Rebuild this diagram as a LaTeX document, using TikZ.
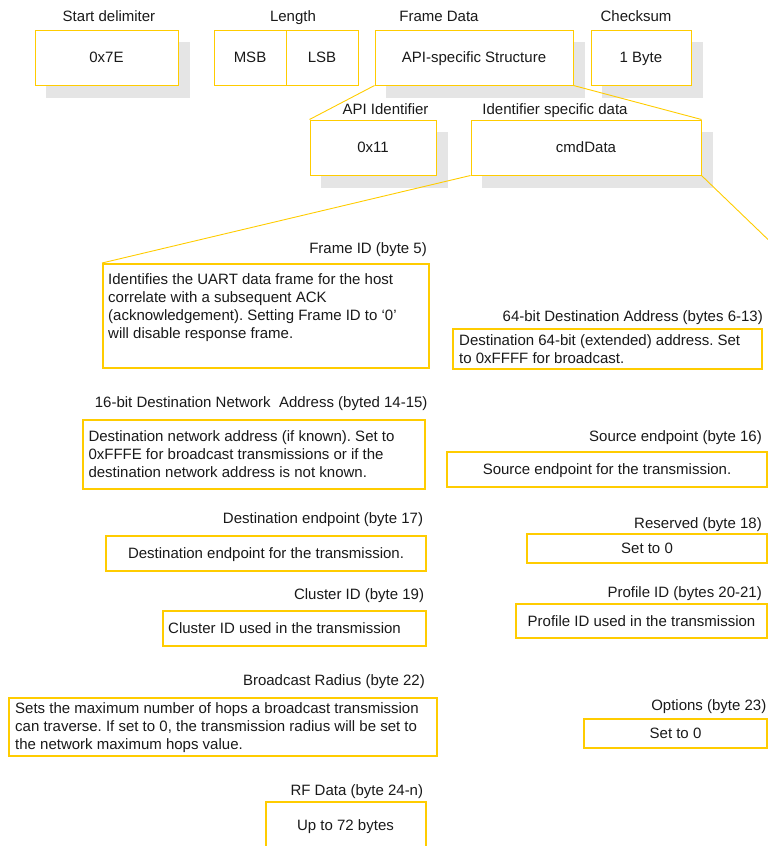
\documentclass[tikz,border=0pt]{standalone}
\usepackage{fontspec}
\setmainfont{Liberation Sans}
\usetikzlibrary{backgrounds}
\definecolor{xyellow}{RGB}{255,204,0}
\definecolor{xshadow}{RGB}{229,229,229}
\definecolor{xtext}{RGB}{25,25,25}
\frenchspacing
\begin{document}
\begin{tikzpicture}[x=1pt,y=-1pt,
  font=\fontsize{15}{18.3}\selectfont\frenchspacing, text=xtext,
  topbox/.style={draw=xyellow, line width=1pt, fill=white, inner sep=0pt,
    text height=10.7pt, text depth=0pt, minimum height=55pt},
  detbox/.style={draw=xyellow, line width=2pt, inner sep=0pt,
    text height=10.7pt, text depth=0pt},
  lbl/.style={inner sep=0pt},
  para/.style={inner sep=0pt, anchor=north west, align=left},
  conn/.style={draw=xyellow, line width=0.9pt}]
\useasboundingbox (0,0) rectangle (768,846);
\clip (0,0) rectangle (768,846);

% ---- top frame boxes
\node[topbox, minimum width=143pt] (sd)  at (106.5,57.5) {0x7E};
\node[topbox, minimum width=72pt]  (msb) at (250,57.5) {MSB};
\node[topbox, minimum width=72pt]  (lsb) at (322,57.5) {LSB};
\node[topbox, minimum width=198pt] (fd)  at (474,57.5) {API-specific Structure};
\node[topbox, minimum width=100pt] (cs)  at (641,57.5) {1 Byte};
\node[topbox, minimum width=126pt] (api) at (373,147.5) {0x11};
\node[topbox, minimum width=230pt] (cmd) at (586,147.5) {cmdData};

\node[lbl, anchor=base] (sdl)  at (109,21)   {Start delimiter};
\node[lbl, anchor=base] (lenl) at (293,21)   {Length};
\node[lbl, anchor=base] (fdl)  at (439,21)   {Frame Data};
\node[lbl, anchor=base] (csl)  at (636,21)   {Checksum};
\node[lbl, anchor=base] (apil) at (385.5,114) {API Identifier};
\node[lbl, anchor=base] (cmdl) at (555,114)  {Identifier specific data};

\begin{scope}[on background layer]
  \foreach \n in {sd,fd,cs,api,cmd}
    \fill[xshadow] ([xshift=11.5pt,yshift=-12pt]\n.south west)
      rectangle ([xshift=11.5pt,yshift=-12pt]\n.north east);
\end{scope}

% ---- detail boxes
\node[detbox, minimum width=326pt, minimum height=104pt] (fid) at (266,316) {};
\node[detbox, minimum width=342pt, minimum height=69pt] (dna) at (254,454.5) {};
\node[detbox, minimum width=309pt, minimum height=40pt] (d64) at (607.5,349) {};
\node[detbox, minimum width=320pt, minimum height=35pt] (src) at (607,469.5) {Source endpoint for the transmission.};
\node[detbox, minimum width=240pt, minimum height=29pt] (res) at (647,548.5) {Set to 0};
\node[detbox, minimum width=320pt, minimum height=35pt] (dep) at (266,553) {Destination endpoint for the transmission.};
\node[detbox, minimum width=263pt, minimum height=35pt] (clu) at (294.5,628.5) {};
\node[detbox, minimum width=251pt, minimum height=34pt] (prof) at (641.5,621) {Profile ID used in the transmission};
\node[detbox, minimum width=428pt, minimum height=58pt] (bcr) at (223,727) {};
\node[detbox, minimum width=183pt, minimum height=29pt] (opt) at (675.5,733.5) {Set to 0};
\node[detbox, minimum width=160pt, minimum height=68pt] (rf) at (346,836) {};

% ---- detail texts
\node[para] (fidt) at (108,273) {Identifies the UART data frame for the host\\correlate with a subsequent ACK\\(acknowledgement). Setting Frame ID to ‘0’\\will disable response frame.};
\node[para] (dnat) at (88.3,430) {Destination network address (if known). Set to\\0xFFFE for broadcast transmissions or if the\\destination network address is not known.};
\node[para] (d64t) at (459,334) {Destination 64-bit (extended) address. Set\\to 0xFFFF for broadcast.};
\node[para] (bcrt) at (15,702.3) {Sets the maximum number of hops a broadcast transmission\\can traverse. If set to 0, the transmission radius will be set to\\the network maximum hops value.};
\node[lbl, anchor=base west] (clut) at (168,633.3) {Cluster ID used in the transmission};
\node[lbl, anchor=base] (rft) at (345.5,830.7) {Up to 72 bytes};

% ---- detail labels
\node[lbl, anchor=base east] (fidl)  at (427,253)   {Frame ID (byte 5)};
\node[lbl, anchor=base east] (dnal)  at (427.7,407.3) {16-bit Destination Network~ Address (byted 14-15)};
\node[lbl, anchor=base east] (d64l)  at (763,321)   {64-bit Destination Address (bytes 6-13)};
\node[lbl, anchor=base east] (srcl)  at (762,441.7) {Source endpoint (byte 16)};
\node[lbl, anchor=base east] (resl)  at (762,528.3) {Reserved (byte 18)};
\node[lbl, anchor=base east] (depl)  at (423.3,523.3) {Destination endpoint (byte 17)};
\node[lbl, anchor=base east] (clul)  at (424.3,599.3) {Cluster ID (byte 19)};
\node[lbl, anchor=base east] (profl) at (762,597.3) {Profile ID (bytes 20-21)};
\node[lbl, anchor=base east] (bcrl)  at (425,685.3) {Broadcast Radius (byte 22)};
\node[lbl, anchor=base east] (optl)  at (766.5,710.7) {Options (byte 23)};
\node[lbl, anchor=base east] (rfl)   at (423.3,795.3) {RF Data (byte 24-n)};

% ---- connectors
\coordinate (edge) at (768,239.5);
\draw[conn] (fd.south west) -- (api.north west);
\draw[conn] (fd.south east) -- (cmd.north east);
\draw[conn] (cmd.south west) -- (fid.north west);
\draw[conn] (cmd.south east) -- (edge);
\end{tikzpicture}
\end{document}
